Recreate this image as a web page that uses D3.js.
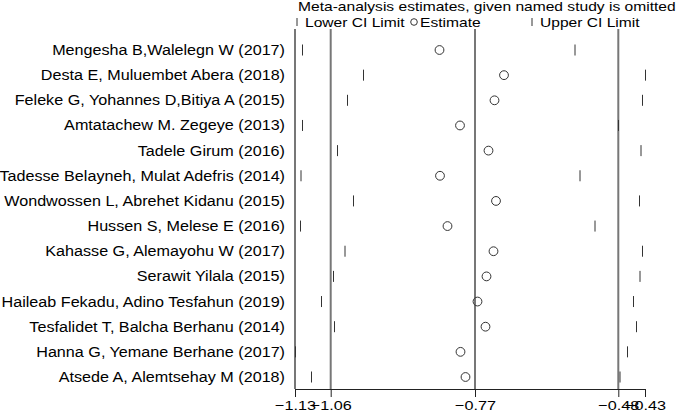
<!DOCTYPE html>
<html>
<head>
<meta charset="utf-8">
<script src="https://cdnjs.cloudflare.com/ajax/libs/d3/7.8.5/d3.min.js"></script>
<style>
  body { margin: 0; background: #fff; }
  text { font-family: "Liberation Sans", Arial, sans-serif; fill: #000; }
</style>
</head>
<body>
<svg id="chart" width="685" height="410"></svg>
<script>
const studies = [
  'Mengesha B,Walelegn W (2017)',
  'Desta E, Muluembet Abera (2018)',
  'Feleke G, Yohannes D,Bitiya A (2015)',
  'Amtatachew M. Zegeye (2013)',
  'Tadele Girum (2016)',
  'Tadesse Belayneh, Mulat Adefris (2014)',
  'Wondwossen L, Abrehet Kidanu (2015)',
  'Hussen S, Melese E (2016)',
  'Kahasse G, Alemayohu W (2017)',
  'Serawit Yilala (2015)',
  'Haileab Fekadu, Adino Tesfahun (2019)',
  'Tesfalidet T, Balcha Berhanu (2014)',
  'Hanna G, Yemane Berhane (2017)',
  'Atsede A, Alemtsehay M (2018)',
]
const lowerCI = [-1.115, -0.993, -1.025, -1.115, -1.045, -1.118, -1.013, -1.119, -1.030, -1.053, -1.077, -1.051, -1.129, -1.097]
const estimate = [-0.841, -0.712, -0.731, -0.800, -0.743, -0.840, -0.728, -0.825, -0.733, -0.747, -0.765, -0.749, -0.799, -0.789]
const upperCI = [-0.570, -0.429, -0.435, -0.483, -0.438, -0.560, -0.441, -0.530, -0.435, -0.440, -0.453, -0.447, -0.465, -0.480]

// reference lines: overall lower CI, estimate, upper CI
const refLines = [-1.13, -1.0586, -0.77, -0.4834]
const tickValues = [-1.13, -1.0586, -0.77, -0.4834, -0.43]
const title = 'Meta-analysis estimates, given named study is omitted'

const svg = d3.select('#chart')
const stretch = 1.2
const labelStretch = 1.115
const plotTop = 29
const plotBottom = 389

const rows = studies.map((s, i) => ({
  name: s, lo: lowerCI[i], est: estimate[i], hi: upperCI[i],
}))

const x = d3.scaleLinear()
  .domain([-1.13, -0.43])
  .range([295, 645])

const y = d3.scalePoint()
  .domain(studies)
  .range([50, 377])

// title + legend
svg.append('text')
  .attr('transform', `translate(298,11) scale(${stretch},1)`)
  .style('font-size', '13px')
  .text(title)

const legend = svg.append('g').attr('class', 'legend')
const legendItems = [
  { kind: 'bar', x: 297, tx: 305, label: 'Lower CI Limit' },
  { kind: 'circle', x: 414, tx: 420, label: 'Estimate' },
  { kind: 'bar', x: 532, tx: 540, label: 'Upper CI Limit' },
]
legendItems.forEach(l => {
  if (l.kind === 'bar') {
    legend.append('line')
      .attr('x1', l.x).attr('x2', l.x)
      .attr('y1', 18).attr('y2', 26)
      .attr('stroke', '#333').attr('stroke-width', 1)
  } else {
    legend.append('circle')
      .attr('cx', l.x).attr('cy', 22).attr('r', 3.3)
      .attr('fill', 'none').attr('stroke', '#333').attr('stroke-width', 1)
  }
  legend.append('text')
    .attr('transform', `translate(${l.tx},27) scale(${stretch},1)`)
    .style('font-size', '13px')
    .text(l.label)
})

// vertical reference lines
svg.selectAll('line.ref')
  .data(refLines)
  .enter()
  .append('line')
    .attr('class', 'ref')
    .attr('x1', d => x(d)).attr('x2', d => x(d))
    .attr('y1', plotTop).attr('y2', plotBottom)
    .attr('stroke', '#777')
    .attr('stroke-width', 2)

// study labels
svg.selectAll('text.study')
  .data(rows)
  .enter()
  .append('text')
    .attr('class', 'study')
    .attr('text-anchor', 'end')
    .attr('transform', d => `translate(285,${y(d.name) + 5}) scale(${labelStretch},1)`)
    .style('font-size', '14.5px')
    .text(d => d.name)

// CI limits
const ciMarks = rows.flatMap(d => [
  { name: d.name, v: d.lo },
  { name: d.name, v: d.hi },
])
svg.selectAll('line.ci')
  .data(ciMarks)
  .enter()
  .append('line')
    .attr('class', 'ci')
    .attr('x1', d => x(d.v)).attr('x2', d => x(d.v))
    .attr('y1', d => y(d.name) - 5.5).attr('y2', d => y(d.name) + 5.5)
    .attr('stroke', '#333')
    .attr('stroke-width', 1)

// estimates
svg.selectAll('circle.est')
  .data(rows)
  .enter()
  .append('circle')
    .attr('class', 'est')
    .attr('cx', d => x(d.est))
    .attr('cy', d => y(d.name))
    .attr('r', 4.4)
    .attr('fill', 'none')
    .attr('stroke', '#333')
    .attr('stroke-width', 1)

// x axis
const axis = d3.axisBottom(x)
  .tickValues(tickValues)
  .tickFormat(d3.format('.2f'))
  .tickSize(8)
  .tickSizeOuter(0)

const gAxis = svg.append('g')
  .attr('transform', `translate(0,${plotBottom})`)
  .call(axis)

gAxis.select('.domain').attr('stroke', '#222')
gAxis.selectAll('.tick line').attr('stroke', '#222')
gAxis.selectAll('.tick text')
  .attr('y', 0)
  .attr('dy', 0)
  .attr('fill', '#000')
  .style('font-size', '13.5px')
  .style('font-family', '"Liberation Sans", Arial, sans-serif')
  .attr('transform', `translate(0,21) scale(${stretch},1)`)
</script>
</body>
</html>
